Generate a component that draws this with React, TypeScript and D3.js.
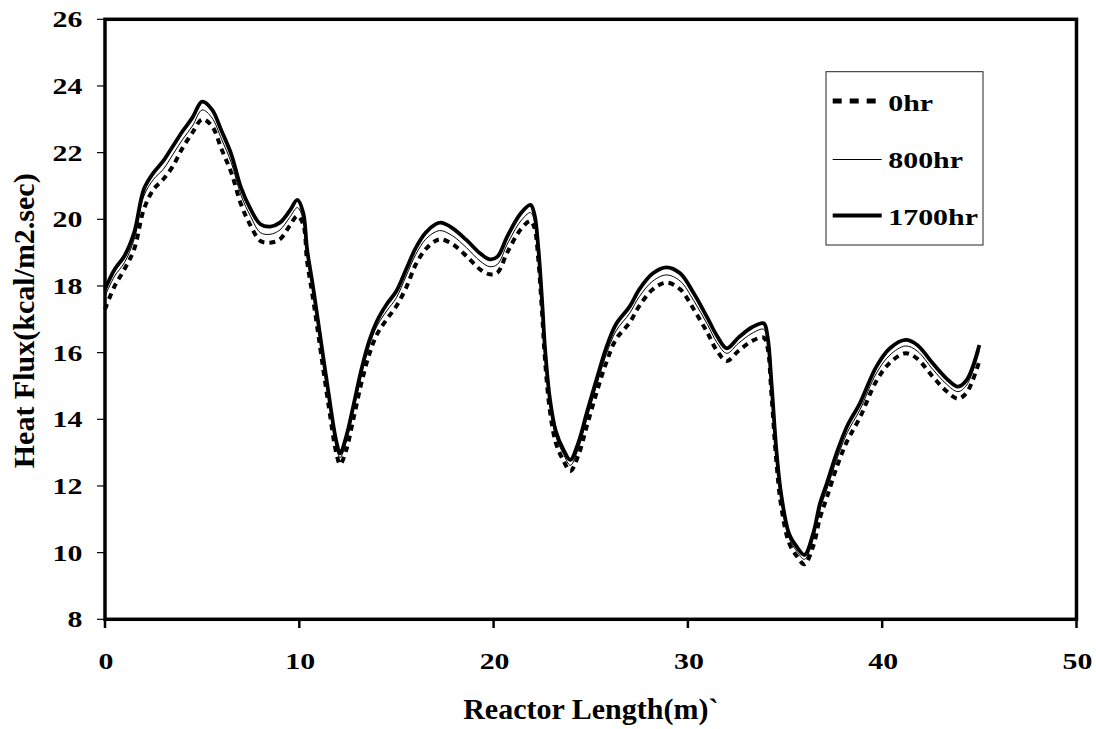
import React from "react";
import * as d3 from "d3";

const X_VALUES = [
  0, 0.5, 1, 1.5, 2, 2.5, 3, 3.5, 4, 4.5,
  5, 5.5, 6, 6.5, 7, 7.5, 8, 8.5, 9, 9.5,
  9.9, 10.2, 10.4, 10.7, 11, 11.5, 11.9, 12.1, 12.4, 12.8,
  13.2, 13.6, 14, 14.5, 15, 15.5, 16, 16.5, 17, 17.3,
  17.9, 18.6, 19.3, 19.8, 20.2, 20.7, 21.4, 21.9, 22.1, 22.3,
  22.5, 22.65, 22.9, 23.2, 23.6, 23.95, 24.35, 24.8, 25.3, 25.8,
  26.3, 27, 27.5, 28.2, 28.9, 29.6, 30.3, 31, 31.5, 32,
  32.6, 33.3, 33.9, 34.1, 34.3, 34.55, 34.8, 35.2, 35.6, 36,
  36.45, 36.8, 37.15, 37.65, 38.2, 38.85, 39.7, 40.4, 41.2, 41.8,
  42.6, 43.3, 43.9, 44.35, 45,
];

const FLUX_1700HR = [
  17.9, 18.5, 18.9, 19.6, 20.9, 21.4, 21.75, 22.2, 22.65, 23.05,
  23.53, 23.3, 22.65, 21.95, 20.95, 20.3, 19.85, 19.78, 19.9, 20.25,
  20.58, 20.2, 19.1, 18.0, 16.8, 14.8, 13.35, 12.98, 13.45, 14.45,
  15.5, 16.35, 16.95, 17.45, 17.85, 18.5, 19.15, 19.6, 19.85, 19.9,
  19.73, 19.38, 18.98, 18.8, 18.88, 19.48, 20.18, 20.43, 20.15, 19.15,
  17.5, 16.1, 14.6, 13.65, 13.08, 12.78, 13.28, 14.2, 15.2, 16.15,
  16.85, 17.38, 17.9, 18.38, 18.56, 18.38, 17.78, 17.05, 16.5, 16.13,
  16.45, 16.76, 16.88, 16.48, 15.1, 13.1, 11.75, 10.58, 10.18, 9.93,
  10.58, 11.48, 12.08, 12.98, 13.8, 14.48, 15.58, 16.13, 16.38, 16.23,
  15.68, 15.23, 14.98, 15.18, 16.23,
];

const FLUX_800HR = [
  17.7, 18.3, 18.7, 19.4, 20.7, 21.2, 21.5, 21.95, 22.4, 22.8,
  23.28, 23.05, 22.4, 21.7, 20.72, 20.08, 19.6, 19.55, 19.68, 20.05,
  20.35, 20.0, 18.95, 17.85, 16.65, 14.65, 13.2, 12.85, 13.3, 14.3,
  15.35, 16.2, 16.8, 17.25, 17.65, 18.3, 18.95, 19.4, 19.62, 19.66,
  19.5, 19.15, 18.75, 18.58, 18.65, 19.25, 19.95, 20.2, 19.95, 19.0,
  17.35, 15.95, 14.45, 13.5, 12.95, 12.62, 13.1, 14.02, 15.02, 15.95,
  16.65, 17.18, 17.68, 18.15, 18.33, 18.15, 17.56, 16.85, 16.3, 15.98,
  16.28, 16.58, 16.7, 16.35, 14.95, 12.95, 11.6, 10.45, 10.05, 9.8,
  10.42, 11.3, 11.9, 12.78, 13.6, 14.28, 15.38, 15.93, 16.2, 16.05,
  15.5, 15.06, 14.83, 15.03, 16.05,
];

const FLUX_0HR = [
  17.3, 18.0, 18.5, 19.1, 20.3, 20.9, 21.2, 21.6, 22.15, 22.6,
  23.0, 22.8, 22.1, 21.4, 20.45, 19.8, 19.35, 19.3, 19.4, 19.8,
  20.1, 19.85, 18.75, 17.65, 16.45, 14.45, 13.0, 12.65, 13.05, 14.05,
  15.1, 15.95, 16.55, 17.0, 17.4, 17.95, 18.65, 19.1, 19.35, 19.4,
  19.25, 18.9, 18.5, 18.35, 18.4, 19.0, 19.7, 19.95, 19.75, 18.8,
  17.15, 15.75, 14.25, 13.3, 12.75, 12.45, 12.9, 13.8, 14.8, 15.7,
  16.4, 16.9, 17.4, 17.9, 18.1, 17.9, 17.3, 16.6, 16.05, 15.75,
  16.05, 16.35, 16.45, 16.15, 14.75, 12.75, 11.4, 10.3, 9.9, 9.65,
  10.2, 11.05, 11.65, 12.55, 13.35, 14.05, 15.15, 15.7, 15.98, 15.82,
  15.28, 14.85, 14.62, 14.8, 15.75,
];

const X_TICKS = [0, 10, 20, 30, 40, 50];
const Y_TICKS = [8, 10, 12, 14, 16, 18, 20, 22, 24, 26];
const SERIES_NAMES = ["0hr", "800hr", "1700hr"];
const X_TITLE = "Reactor Length(m)`";
const Y_TITLE = "Heat Flux(kcal/m2.sec)";

const FONT = "'Liberation Serif', 'Times New Roman', serif";

export default function App() {
  const W = 1096;
  const H = 729;
  const left = 105;
  const right = 1076.5;
  const top = 19.3;
  const bottom = 619.3;

  const x = d3.scaleLinear().domain([0, 50]).range([left, right]);
  const y = d3.scaleLinear().domain([8, 26]).range([bottom, top]);

  const line = d3
    .line<number>()
    .x((_, i) => x(X_VALUES[i]))
    .y((d) => y(d))
    .curve(d3.curveCatmullRom.alpha(0.5));

  const seriesData = [FLUX_0HR, FLUX_800HR, FLUX_1700HR];
  const styles = [
    { width: 4, dash: "6,5" },
    { width: 1, dash: undefined },
    { width: 3.8, dash: undefined },
  ];

  const legendYs = [101, 159.5, 215.5];
  const legendBase = [110.7, 168.3, 225];

  return (
    <svg
      width={W}
      height={H}
      style={{ position: "absolute", left: 0, top: 0, background: "#fff" }}
    >
      <rect x={0} y={0} width={W} height={H} fill="#fff" />
      {seriesData.map((s, i) => (
        <path
          key={i}
          d={line(s) || ""}
          fill="none"
          stroke="#000"
          strokeWidth={styles[i].width}
          strokeDasharray={styles[i].dash}
          strokeLinejoin="round"
        />
      ))}
      <rect
        x={left}
        y={top}
        width={right - left}
        height={bottom - top}
        fill="none"
        stroke="#000"
        strokeWidth={3.5}
      />
      {Y_TICKS.map((t) => (
        <g key={"y" + t}>
          <line x1={97} x2={left} y1={y(t)} y2={y(t)} stroke="#000" strokeWidth={1.2} />
          <text
            transform={`translate(82.5, ${y(t) + 8}) scale(1.3, 1)`}
            textAnchor="end"
            fontFamily={FONT}
            fontWeight="bold"
            fontSize={23}
          >
            {t}
          </text>
        </g>
      ))}
      {X_TICKS.map((t) => (
        <g key={"x" + t}>
          <line x1={x(t)} x2={x(t)} y1={bottom} y2={628} stroke="#000" strokeWidth={2.5} />
          <text
            transform={`translate(${x(t) + 1}, 669) scale(1.3, 1)`}
            textAnchor="middle"
            fontFamily={FONT}
            fontWeight="bold"
            fontSize={23}
          >
            {t}
          </text>
        </g>
      ))}
      <text
        x={590.8}
        y={719.3}
        textAnchor="middle"
        fontFamily={FONT}
        fontWeight="bold"
        fontSize={30}
      >
        {X_TITLE}
      </text>
      <text
        transform={`translate(33.5, 320.8) rotate(-90)`}
        textAnchor="middle"
        fontFamily={FONT}
        fontWeight="bold"
        fontSize={30}
      >
        {Y_TITLE}
      </text>
      <rect
        x={826}
        y={71.7}
        width={157}
        height={173.3}
        fill="#fff"
        stroke="#222"
        strokeWidth={1}
      />
      {SERIES_NAMES.map((name, i) => (
        <g key={name}>
          <line
            x1={832.7}
            x2={881.7}
            y1={legendYs[i]}
            y2={legendYs[i]}
            stroke="#000"
            strokeWidth={i === 0 ? 5 : styles[i].width}
            strokeDasharray={i === 0 ? "9,8" : undefined}
          />
          <text
            transform={`translate(888.3, ${legendBase[i]}) scale(1.3, 1)`}
            fontFamily={FONT}
            fontWeight="bold"
            fontSize={23}
          >
            {name}
          </text>
        </g>
      ))}
    </svg>
  );
}
